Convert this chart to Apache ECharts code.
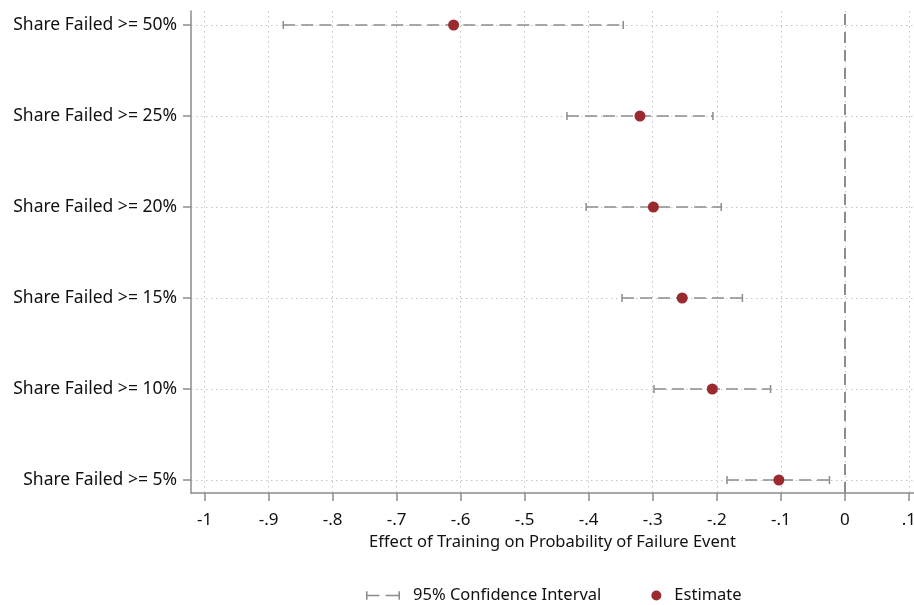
<!DOCTYPE html>
<html>
<head>
<meta charset="utf-8">
<script src="https://cdn.jsdelivr.net/npm/echarts@6/dist/echarts.min.js"></script>
<style>
	html, body { margin: 0; padding: 0; background: #fff; }
	#chart { width: 914px; height: 605px; }
</style>
</head>
<body>
<div id="chart"></div>
<script>
// rows, bottom to top
let rowLabels = ["Share Failed >= 5%", "Share Failed >= 10%", "Share Failed >= 15%", "Share Failed >= 20%", "Share Failed >= 25%", "Share Failed >= 50%"]
let estimates = [-0.103, -0.207, -0.254, -0.299, -0.320, -0.611]
let ciLow = [-0.184, -0.298, -0.348, -0.404, -0.434, -0.877]
let ciHigh = [-0.024, -0.116, -0.160, -0.193, -0.206, -0.346]
let xTicks = [-1, -0.9, -0.8, -0.7, -0.6, -0.5, -0.4, -0.3, -0.2, -0.1, 0, 0.1]
let rowTicks = [0, 1, 2, 3, 4, 5]

let font = "'Noto Sans', sans-serif"
let gray = "#8c8c8c"

let chart = echarts.init(document.getElementById("chart"))

let ciData = rowLabels.map(function (v, i) {
	return [ciLow[i], ciHigh[i], i]
})
let estData = rowLabels.map(function (v, i) {
	return [estimates[i], i]
})

chart.setOption({
	animation: false,
	grid: {
		left: 191,
		right: 0,
		top: 11,
		bottom: 112,
		outerBoundsMode: "none",
		containLabel: false
	},
	xAxis: {
		type: "value",
		min: -1.0211,
		max: 0.108,
		name: "Effect of Training on Probability of Failure Event",
		nameLocation: "middle",
		nameGap: 40,
		nameTextStyle: {fontFamily: font, fontSize: 16.5, color: "#111"},
		axisLine: {onZero: false, lineStyle: {color: gray, width: 1.5}},
		axisTick: {show: true, length: 8, customValues: xTicks, lineStyle: {color: gray, width: 1.5}},
		axisLabel: {
			customValues: xTicks,
			margin: 19,
			fontFamily: font,
			fontSize: 17,
			color: "#111",
			formatter: function (v) {
				let s = (Math.round(v * 10) / 10).toFixed(1)
				if (s == "0.0") {
					return "0"
				}
				if (s == "-1.0") {
					return "-1"
				}
				return s.replace("0.", ".")
			}
		},
		splitLine: {show: true, lineStyle: {color: "#c4c4c4", type: [1.5, 3.5], width: 1}}
	},
	yAxis: {
		type: "value",
		min: -0.143,
		max: 5.154,
		axisLine: {show: true, onZero: false, lineStyle: {color: gray, width: 1.5}},
		axisTick: {show: true, length: 8, customValues: rowTicks, lineStyle: {color: gray, width: 1.5}},
		axisLabel: {
			customValues: rowTicks,
			margin: 14,
			padding: [6, 0, 0, 0],
			fontFamily: font,
			fontSize: 17.5,
			color: "#111",
			formatter: function (v) {
				return rowLabels[Math.round(v)]
			}
		},
		splitLine: {show: true, lineStyle: {color: "#c4c4c4", type: [1.5, 3.5], width: 1}}
	},
	legend: {
		bottom: -4,
		left: 361,
		itemGap: 50,
		itemWidth: 34,
		itemHeight: 10,
		textStyle: {fontFamily: font, fontSize: 16.5, color: "#111", padding: [0, 0, 0, 8]},
		data: [
			{
				name: "95% Confidence Interval",
				icon: "path://M0,0 L1.5,0 L1.5,3.4 L13,3.4 L13,5 L1.5,5 L1.5,8.4 L0,8.4 Z M19,3.4 L31.5,3.4 L31.5,0 L33,0 L33,8.4 L31.5,8.4 L31.5,5 L19,5 Z"
			},
			{
				name: "Estimate",
				icon: "circle",
				itemStyle: {color: "#9b2a2f", opacity: 1},
				textStyle: {padding: [0, 0, 0, -4]}
			}
		]
	},
	series: [
		{
			name: "95% Confidence Interval",
			type: "custom",
			itemStyle: {color: gray},
			data: ciData,
			encode: {x: [0, 1], y: 2},
			renderItem: function (params, api) {
				let p1 = api.coord([api.value(0), api.value(2)])
				let p2 = api.coord([api.value(1), api.value(2)])
				let cap = 4
				let style = {stroke: gray, lineWidth: 1.5, fill: null}
				return {
					type: "group",
					children: [
						{type: "line", shape: {x1: p1[0], y1: p1[1], x2: p2[0], y2: p2[1]}, style: Object.assign({lineDash: [12, 6]}, style)},
						{type: "line", shape: {x1: p1[0], y1: p1[1] - cap, x2: p1[0], y2: p1[1] + cap}, style: style},
						{type: "line", shape: {x1: p2[0], y1: p2[1] - cap, x2: p2[0], y2: p2[1] + cap}, style: style}
					]
				}
			},
			z: 3
		},
		{
			name: "Estimate",
			type: "scatter",
			data: estData,
			symbol: "circle",
			symbolSize: 11,
			itemStyle: {color: "#9b2a2f", opacity: 1},
			z: 4,
			markLine: {
				silent: true,
				symbol: "none",
				label: {show: false},
				lineStyle: {color: gray, width: 2, type: [11, 7], opacity: 1},
				data: [{xAxis: 0}]
			}
		}
	]
})
</script>
</body>
</html>
